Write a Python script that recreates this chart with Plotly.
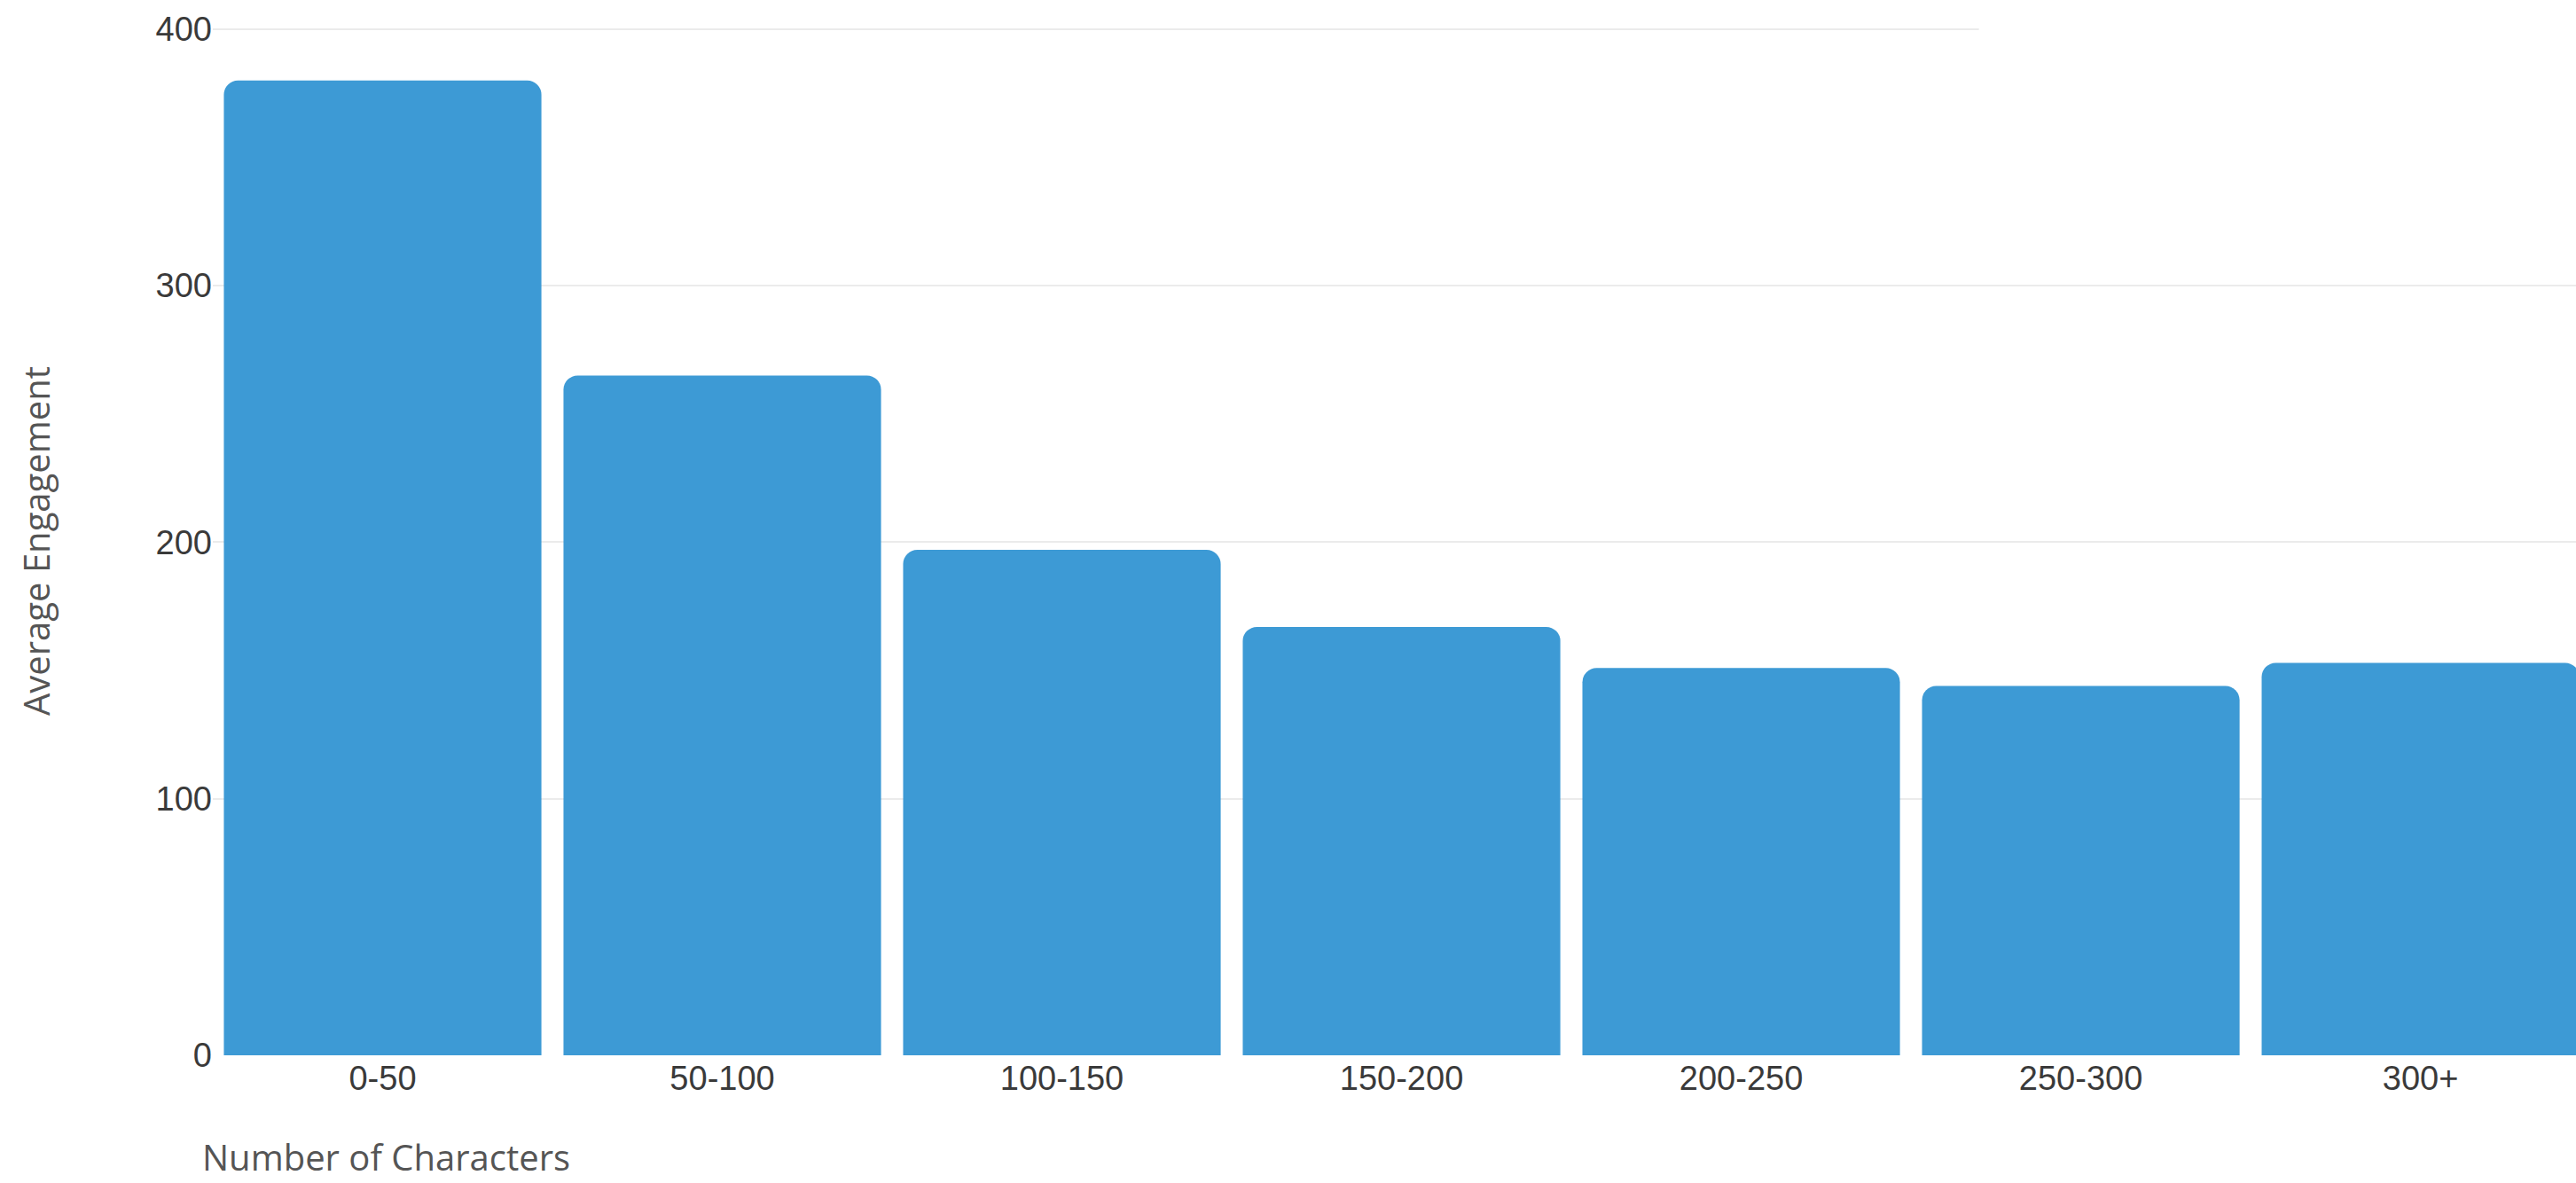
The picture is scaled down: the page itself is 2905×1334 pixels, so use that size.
import plotly.graph_objects as go

# Average engagement by post length
categories = ["0-50", "50-100", "100-150", "150-200", "200-250", "250-300", "300+"]
engagement = [380, 265, 197, 167, 151, 144, 153]
y_ticks = [0, 100, 200, 300, 400]

BAR_COLOR = "#3d9ad5"
TICK_FONT = dict(family="Liberation Sans, Arial, sans-serif", size=38, color="#3a3a3a")
TITLE_FONT = dict(family="Open Sans, Noto Sans, sans-serif", size=40, color="#555555")

fig = go.Figure()

fig.add_trace(go.Bar(
    x=categories,
    y=engagement,
    marker=dict(color=BAR_COLOR, line=dict(width=0), cornerradius=16),
    hoverinfo="x+y",
))

# the top gridline stops part way across in the original
fig.add_shape(type="rect", xref="x", yref="y", x0=4.7, x1=6.6, y0=398, y1=402,
              fillcolor="white", line=dict(width=0), layer="between")

fig.update_layout(
    width=2905,
    height=1334,
    margin=dict(l=240, r=0, t=30, b=144),
    paper_bgcolor="white",
    plot_bgcolor="white",
    bargap=0.065,
    showlegend=False,
    xaxis=dict(
        range=[-0.5, 6.458],
        showgrid=False,
        showline=False,
        zeroline=False,
        ticks="",
        tickfont=TICK_FONT,
    ),
    yaxis=dict(
        range=[0, 401],
        tickvals=y_ticks,
        showgrid=True,
        gridcolor="#ebebeb",
        gridwidth=2,
        zeroline=False,
        showline=False,
        ticks="",
        tickfont=TICK_FONT,
        ticklabelstandoff=0,
    ),
    annotations=[
        dict(text="Average Engagement", xref="paper", yref="paper", x=0, y=0.5,
             xanchor="center", yanchor="middle", xshift=-200, textangle=-90,
             showarrow=False, font=TITLE_FONT),
        dict(text="Number of Characters", xref="paper", yref="paper", x=0, y=0,
             xanchor="left", yanchor="bottom", xshift=-14, yshift=-144,
             showarrow=False, font=TITLE_FONT),
    ],
)

# drop the default page margin so the figure sits at the window's corner
fig.write_html("out.html", config={"displayModeBar": False},
               post_script="document.body.style.margin='0';")
